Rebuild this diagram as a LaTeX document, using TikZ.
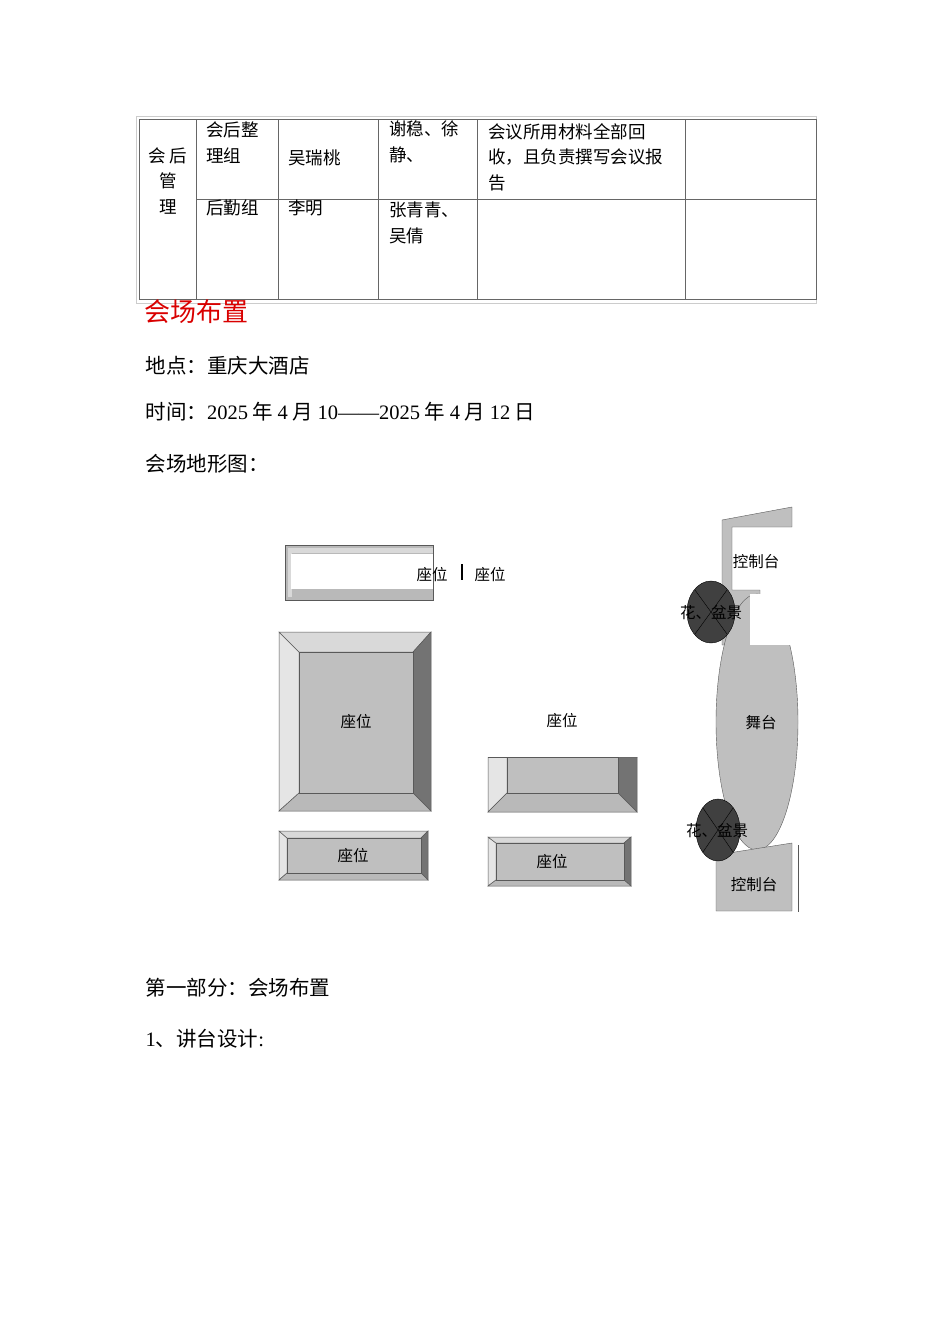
\documentclass[tikz,border=0pt]{standalone}
\usepackage{fontspec}
\setmainfont{Liberation Serif}
\newfontfamily\cjk{Noto Sans CJK SC}
\begin{document}
\begin{tikzpicture}[x=1pt,y=-1pt,
  body/.style={anchor=west,font=\fontsize{20.5}{24}\selectfont},
  cell/.style={anchor=north west,font=\cjk\fontsize{17.5}{25.5}\selectfont,align=left,inner sep=0},
  lbl/.style={font=\cjk\fontsize{15.5}{17}\selectfont,inner sep=0},
  lt/.style={fill=gray!30,draw=gray!70!black,line width=0.5pt},
  md/.style={fill=gray!55,draw=gray!70!black,line width=0.5pt},
  dk/.style={fill=black!55,draw=gray!70!black,line width=0.5pt}]
\useasboundingbox (0,0) rectangle (950,1344);
% table
\draw[gray!40] (136,116) rectangle (816,303);
\draw[gray!80!black,line width=0.8pt] (139,119) rectangle (816,299);
\foreach \x in {196,278,378,477,685} \draw[gray!80!black,line width=0.8pt] (\x,119) -- (\x,299);
\draw[gray!80!black,line width=0.8pt] (196,199) -- (816,199);
\node[font=\cjk\fontsize{17.5}{25.5}\selectfont,align=center,inner sep=0] (c0) at (168,181) {会\ 后\\管\\理};
\node[cell] (c1) at (206,122) {会后整\\理组};
\node[cell] (c2) at (288,150) {吴瑞桃};
\node[cell] (c3) at (389,121) {谢稳、徐\\静、};
\node[cell] (c4) at (488,123) {会议所用材料全部回\\收，且负责撰写会议报\\告};
\node[cell] (c5) at (206,200) {后勤组};
\node[cell] (c6) at (288,200) {李明};
\node[cell] (c7) at (389,202) {张青青、\\吴倩};
% headings
\node[body,text=red!85!black,font=\cjk\fontsize{26}{28}\selectfont] (h) at (141,312) {会场布置};
\node[body] (t1) at (142,366) {{\cjk 地点：重庆大酒店}};
\node[body] (t2) at (142,412) {{\cjk 时间：}2025{\cjk\ 年\ }4{\cjk\ 月\ }10——2025{\cjk\ 年\ }4{\cjk\ 月\ }12{\cjk\ 日}};
\node[body] (t3) at (142,464) {{\cjk 会场地形图：}};
\node[body] (t4) at (142,988) {{\cjk 第一部分：会场布置}};
\node[body] (t5) at (142,1039) {1{\cjk 、讲台设计}:};
% top frame
\fill[gray!55,draw=gray!70!black] (285,545) rectangle (433,600);
\fill[gray!30] (288,548) rectangle (433,553);
\fill[gray!30] (288,548) rectangle (292,597);
\fill[white] (291,554) rectangle (433,589);
\node[lbl] (s1) at (432,575) {座位};
\draw[line width=1.5pt] (462,564) -- (462,580);
\node[lbl] (s2) at (490,575) {座位};
\newcommand\bevel[8]{%
  \filldraw[lt,fill=gray!20] (#1,#2) -- (#5,#6) -- (#5,#8) -- (#1,#4) -- cycle;
  \filldraw[lt] (#1,#2) -- (#3,#2) -- (#7,#6) -- (#5,#6) -- cycle;
  \filldraw[dk] (#3,#2) -- (#3,#4) -- (#7,#8) -- (#7,#6) -- cycle;
  \filldraw[md] (#1,#4) -- (#3,#4) -- (#7,#8) -- (#5,#8) -- cycle;
  \filldraw[fill=gray!50,draw=gray!70!black] (#5,#6) rectangle (#7,#8);}
\bevel{279}{632}{431}{811}{299}{652}{413}{793}
\node[lbl] (s3) at (356,722) {座位};
\bevel{279}{831}{428}{880}{287}{838}{421}{873}
\node[lbl] (s4) at (353,856) {座位};
\bevel{488}{757}{637}{812}{507}{757}{618}{793}
\fill[white] (487,750) rectangle (640,757.3);
\node[lbl] (s5) at (562,721) {座位};
\bevel{488}{837}{631}{886}{496}{843}{624}{880}
\node[lbl] (s6) at (552,862) {座位};
% right side
\filldraw[fill=gray!50,draw=gray!70!black] (722,520) -- (792,507) -- (792,527) -- (732,527) -- (732,590) -- (760,590) -- (760,645) -- (722,645) -- cycle;
\fill[white] (733,528) rectangle (800,589);
\begin{scope}
\clip (700,590) rectangle (798,915);
\filldraw[fill=gray!50,draw=gray!70!black] (757,722) ellipse (41 and 128);
\end{scope}
\fill[white] (750,594) rectangle (798,645);
\node[lbl] (ct1) at (756,562) {控制台};
\node[lbl] (st) at (761,723) {舞台};
\filldraw[fill=gray!50,draw=gray!70!black] (716,855) -- (792,843) -- (792,911) -- (716,911) -- cycle;
\draw[gray!70!black] (798,845) -- (798,912);
\node[lbl] (ct2) at (754,885) {控制台};
\filldraw[fill=black!75,draw=black] (711,612) ellipse (24 and 31);
\draw[black] (695,590) -- (727,634) (727,590) -- (695,634);
\node[lbl] (fl1) at (711,613) {花、盆景};
\filldraw[fill=black!75,draw=black] (718,830) ellipse (22 and 31);
\draw[black] (703,808) -- (733,852) (733,808) -- (703,852);
\node[lbl] (fl2) at (717,831) {花、盆景};
\end{tikzpicture}
\end{document}
